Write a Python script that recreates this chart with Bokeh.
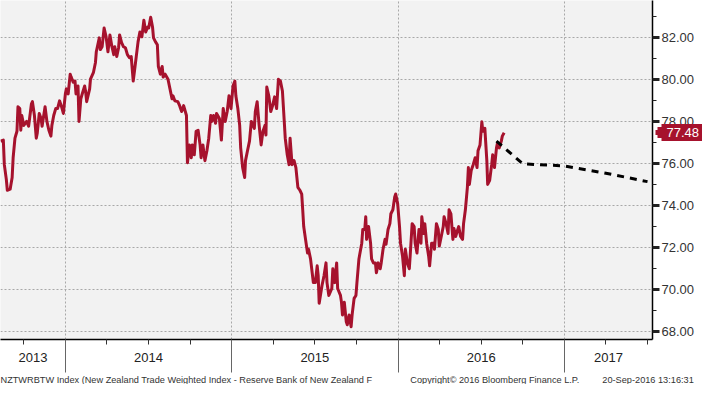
from bokeh.plotting import figure
from bokeh.models import (Range1d, FixedTicker, NumeralTickFormatter, LinearAxis, Title,
                          CustomJSTickFormatter)
from bokeh.embed import file_html
from bokeh.resources import INLINE

# ---------------- data ----------------
dates = [
    2013.610, 2013.627, 2013.633, 2013.645, 2013.651, 2013.668, 2013.680, 2013.686, 2013.697, 2013.709,
    2013.715, 2013.726, 2013.732, 2013.738, 2013.750, 2013.767, 2013.779, 2013.796, 2013.802, 2013.814,
    2013.825, 2013.831, 2013.843, 2013.854, 2013.860, 2013.878, 2013.889, 2013.901, 2013.913, 2013.919,
    2013.930, 2013.942, 2013.953, 2013.965, 2013.977, 2013.988, 2014.000, 2014.006, 2014.017, 2014.029,
    2014.035, 2014.047, 2014.058, 2014.064, 2014.076, 2014.082, 2014.093, 2014.105, 2014.116, 2014.122,
    2014.128, 2014.146, 2014.151, 2014.169, 2014.181, 2014.186, 2014.204, 2014.210, 2014.221, 2014.233,
    2014.245, 2014.256, 2014.268, 2014.280, 2014.291, 2014.297, 2014.309, 2014.320, 2014.326, 2014.338,
    2014.349, 2014.361, 2014.373, 2014.385, 2014.396, 2014.408, 2014.419, 2014.437, 2014.448, 2014.460,
    2014.472, 2014.483, 2014.495, 2014.501, 2014.513, 2014.524, 2014.530, 2014.542, 2014.553, 2014.559,
    2014.571, 2014.582, 2014.588, 2014.600, 2014.617, 2014.629, 2014.641, 2014.647, 2014.658, 2014.676,
    2014.687, 2014.699, 2014.711, 2014.728, 2014.734, 2014.746, 2014.757, 2014.763, 2014.775, 2014.786,
    2014.798, 2014.810, 2014.816, 2014.827, 2014.839, 2014.851, 2014.862, 2014.874, 2014.880, 2014.891,
    2014.903, 2014.909, 2014.926, 2014.938, 2014.949, 2014.961, 2014.973, 2014.984, 2014.996, 2015.008,
    2015.019, 2015.025, 2015.037, 2015.048, 2015.054, 2015.066, 2015.078, 2015.083, 2015.095, 2015.107,
    2015.118, 2015.136, 2015.142, 2015.153, 2015.165, 2015.177, 2015.188, 2015.200, 2015.206, 2015.211,
    2015.223, 2015.235, 2015.246, 2015.258, 2015.270, 2015.281, 2015.293, 2015.305, 2015.316, 2015.322,
    2015.334, 2015.345, 2015.351, 2015.363, 2015.375, 2015.386, 2015.398, 2015.410, 2015.421, 2015.427,
    2015.433, 2015.444, 2015.456, 2015.462, 2015.474, 2015.491, 2015.503, 2015.514, 2015.520, 2015.526,
    2015.543, 2015.555, 2015.567, 2015.573, 2015.584, 2015.602, 2015.608, 2015.619, 2015.631, 2015.637,
    2015.654, 2015.660, 2015.666, 2015.677, 2015.689, 2015.695, 2015.706, 2015.718, 2015.724, 2015.736,
    2015.747, 2015.753, 2015.765, 2015.782, 2015.788, 2015.800, 2015.806, 2015.811, 2015.823, 2015.835,
    2015.841, 2015.852, 2015.864, 2015.870, 2015.881, 2015.893, 2015.899, 2015.910, 2015.922, 2015.928,
    2015.940, 2015.951, 2015.957, 2015.969, 2015.980, 2015.986, 2015.998, 2016.009, 2016.015, 2016.027,
    2016.038, 2016.044, 2016.056, 2016.068, 2016.073, 2016.085, 2016.097, 2016.103, 2016.114, 2016.126,
    2016.138, 2016.143, 2016.155, 2016.161, 2016.172, 2016.184, 2016.190, 2016.202, 2016.213, 2016.219,
    2016.231, 2016.242, 2016.248, 2016.260, 2016.272, 2016.277, 2016.289, 2016.301, 2016.307, 2016.318,
    2016.330, 2016.336, 2016.347, 2016.359, 2016.365, 2016.376, 2016.388, 2016.394, 2016.405, 2016.417,
    2016.423, 2016.429, 2016.440, 2016.452, 2016.464, 2016.475, 2016.481, 2016.493, 2016.504, 2016.510,
    2016.522, 2016.534, 2016.539, 2016.551, 2016.563, 2016.569, 2016.580, 2016.592, 2016.598, 2016.609,
    2016.621, 2016.627, 2016.638,
]
nztwi = [
    77.08, 77.13, 75.96, 75.26, 74.74, 74.79, 75.35, 76.29, 77.22, 77.55,
    78.72, 78.63, 77.60, 78.30, 77.83, 78.02, 77.79, 78.86, 78.96, 78.30,
    77.22, 77.46, 78.40, 78.16, 77.79, 78.72, 78.02, 77.60, 77.32, 77.83,
    78.30, 78.63, 78.63, 79.00, 78.72, 78.40, 79.33, 79.57, 79.33, 80.27,
    80.13, 79.89, 79.94, 79.33, 79.71, 78.02, 79.10, 79.43, 79.71, 79.43,
    78.96, 79.57, 80.03, 80.36, 80.83, 81.34, 82.00, 81.44, 81.58, 82.47,
    82.05, 81.34, 82.14, 81.58, 81.20, 81.58, 81.11, 81.53, 82.14, 81.77,
    81.58, 81.53, 81.20, 81.06, 81.11, 79.94, 80.64, 81.81, 82.28, 82.05,
    82.84, 82.28, 82.52, 82.47, 82.98, 82.52, 82.00, 81.81, 81.67, 80.64,
    80.27, 80.64, 80.13, 80.27, 80.03, 79.57, 79.10, 79.24, 79.00, 78.96,
    78.77, 78.49, 78.77, 78.30, 76.05, 76.90, 76.29, 76.90, 76.43, 77.55,
    77.60, 76.90, 76.29, 76.90, 76.15, 76.62, 77.22, 78.30, 78.02, 78.30,
    77.93, 78.40, 78.16, 77.13, 78.63, 78.02, 78.49, 79.24, 78.63, 79.71,
    79.94, 79.24, 78.63, 77.83, 76.76, 75.82, 75.35, 76.15, 76.62, 77.08,
    78.02, 77.69, 78.49, 78.96, 77.83, 76.90, 77.55, 77.83, 77.37, 79.66,
    79.24, 78.49, 78.77, 79.19, 78.63, 80.03, 79.94, 79.47, 78.02, 77.22,
    76.43, 75.96, 77.22, 75.96, 76.15, 75.82, 74.88, 74.74, 74.56, 73.81,
    73.01, 72.40, 71.75, 71.93, 71.47, 70.34, 70.34, 71.14, 70.67, 69.36,
    70.20, 70.67, 71.28, 70.34, 69.73, 70.06, 71.00, 70.34, 71.28, 70.06,
    69.73, 69.41, 68.80, 69.41, 68.47, 68.33, 68.80, 68.24, 68.80, 69.59,
    69.73, 70.34, 71.47, 72.22, 72.87, 72.87, 73.48, 72.40, 73.01, 72.22,
    71.47, 71.28, 71.28, 70.81, 71.28, 71.00, 71.28, 71.93, 72.40, 72.17,
    72.87, 73.15, 73.62, 73.81, 74.42, 74.56, 74.09, 73.01, 72.22, 71.61,
    70.67, 71.93, 71.28, 71.00, 71.61, 73.15, 73.01, 72.22, 71.75, 72.87,
    72.22, 73.48, 72.68, 73.15, 72.22, 71.61, 71.14, 72.22, 72.22, 71.93,
    73.15, 72.87, 72.08, 72.54, 73.01, 73.48, 73.15, 72.68, 73.81, 73.62,
    72.40, 72.92, 72.54, 72.87, 73.01, 72.54, 72.40, 73.15, 73.81, 74.88,
    75.82, 75.02, 75.68, 75.96, 76.29, 75.82, 76.62, 76.90, 78.00, 77.55,
    77.69, 76.15, 75.02, 75.21, 75.96, 76.43, 75.82, 76.76, 76.99, 76.76,
    77.08, 77.32, 77.48,
]
forecast_dates = [2016.592, 2016.75, 2017.0, 2017.25, 2017.5]
forecast_vals = [77.08, 76.00, 75.90, 75.55, 75.15]

year_bounds = [2014, 2015, 2016, 2017]
year_labels = ["2013", "2014", "2015", "2016", "2017"]
y_ticks = [68, 70, 72, 74, 76, 78, 80, 82]
y_minor = [69, 71, 73, 75, 77, 79, 81, 83]
last_value = 77.48
x_start, x_end = 2013.61, 2017.53
y_start, y_end = 67.63, 83.78

footer_left = "NZTWRBTW Index (New Zealand Trade Weighted Index - Reserve Bank of New Zealand F"
footer_mid = "Copyright\u00a9 2016 Bloomberg Finance L.P."
footer_right = "20-Sep-2016 13:16:31"

# ---------------- styling ----------------
RED = "#a6122d"
FONT = "Liberation Sans"
BLANK = CustomJSTickFormatter(code="return ''")

p = figure(width=702, height=384, output_backend="svg", toolbar_location=None,
           x_range=Range1d(x_start, x_end), y_range=Range1d(y_start, y_end),
           x_axis_location="below", y_axis_location="right",
           min_border_left=0, min_border_top=0, min_border_right=48, min_border_bottom=0,
           background_fill_color="#f2f2f2", border_fill_color="white",
           outline_line_color=None)

# --- value axis (right)
ya = p.yaxis[0]
ya.ticker = FixedTicker(ticks=y_ticks, minor_ticks=y_minor)
ya.formatter = NumeralTickFormatter(format="0.00")
ya.major_tick_out = 7
ya.major_tick_in = 0
ya.major_tick_line_width = 3
ya.major_tick_line_color = "#222222"
ya.minor_tick_out = 4
ya.minor_tick_in = 0
ya.minor_tick_line_color = "#222222"
ya.axis_line_color = "black"
ya.axis_line_width = 1.5
ya.major_label_text_font = FONT
ya.major_label_text_font_size = "13px"
ya.major_label_text_color = "#333333"
ya.major_label_standoff = 2

# --- last-value tag: extra right axes that only mark the last value
# pointer tip (drawn first), then the box with the white value on top
for tick_in, width in ((40, 11), (42, 5)):
    p.add_layout(LinearAxis(ticker=FixedTicker(ticks=[last_value], minor_ticks=[]),
                            formatter=BLANK, axis_line_color=None,
                            major_tick_in=tick_in, major_tick_out=0,
                            major_tick_line_width=width, major_tick_line_color=RED,
                            major_tick_line_cap="butt",
                            major_label_text_font_size="1px", major_label_standoff=0),
                 "right")
tag_body = LinearAxis(ticker=FixedTicker(ticks=[last_value], minor_ticks=[]),
                      formatter=NumeralTickFormatter(format="0.00"),
                      axis_line_color=None,
                      major_tick_in=36, major_tick_out=5, major_tick_line_width=17,
                      major_tick_line_color=RED, major_tick_line_cap="butt",
                      major_label_text_font=FONT, major_label_text_font_size="13px",
                      major_label_text_color="white", major_label_standoff=-36)
p.add_layout(tag_body, "right")

# --- date axis (below): year separators + quarterly ticks
quarters = [yr + q * 0.25 for yr in range(2013, 2018) for q in range(4)
            if x_start < yr + q * 0.25 < x_end and (yr + q * 0.25) not in year_bounds]
xa = p.xaxis[0]
xa.ticker = FixedTicker(ticks=year_bounds, minor_ticks=quarters)
xa.formatter = BLANK
xa.major_label_text_font_size = "1px"
xa.major_label_standoff = 0
xa.major_tick_out = 33
xa.major_tick_in = 0
xa.major_tick_line_color = "#666666"
xa.minor_tick_out = 5
xa.minor_tick_in = 0
xa.minor_tick_line_color = "#333333"
xa.axis_line_color = "black"
xa.axis_line_width = 1.5

# --- year labels, centred in each year's visible span
edges = [x_start] + year_bounds + [x_end]
mids = [(edges[i] + edges[i + 1]) / 2 for i in range(len(year_labels))]
year_fmt = CustomJSTickFormatter(args=dict(yr_pos=mids, yr_txt=year_labels), code="""
    let best = 0, d = Infinity;
    for (let i = 0; i < yr_pos.length; i++) {
        const e = Math.abs(yr_pos[i] - tick);
        if (e < d) { d = e; best = i; }
    }
    return yr_txt[best];
""")
xl = LinearAxis(ticker=FixedTicker(ticks=mids, minor_ticks=[]), formatter=year_fmt,
                axis_line_color=None, major_tick_out=0, major_tick_in=0,
                major_label_text_font=FONT, major_label_text_font_size="13px",
                major_label_text_color="#222222", major_label_standoff=-20)
p.add_layout(xl, "below")

# --- footer line
gap1 = "\u00a0" * 15
gap2 = "\u00a0" * 9
p.add_layout(Title(text=footer_left + gap1 + footer_mid + gap2 + footer_right,
                   align="left", text_font=FONT, text_font_size="9.2px",
                   text_font_style="normal", text_color="#333333",
                   standoff=0, offset=0), "below")

# --- grid
p.xgrid[0].ticker = FixedTicker(ticks=year_bounds)
for g in (p.xgrid[0], p.ygrid[0]):
    g.grid_line_color = "#a8a8a8"
    g.grid_line_dash = "2 2"
    g.grid_line_width = 1

# --- series
p.line(dates, nztwi, line_color=RED, line_width=3, line_join="round")
p.line(forecast_dates, forecast_vals, line_color="black", line_width=3, line_dash="7 6")

open("out.html", "w").write(file_html(p, INLINE))
